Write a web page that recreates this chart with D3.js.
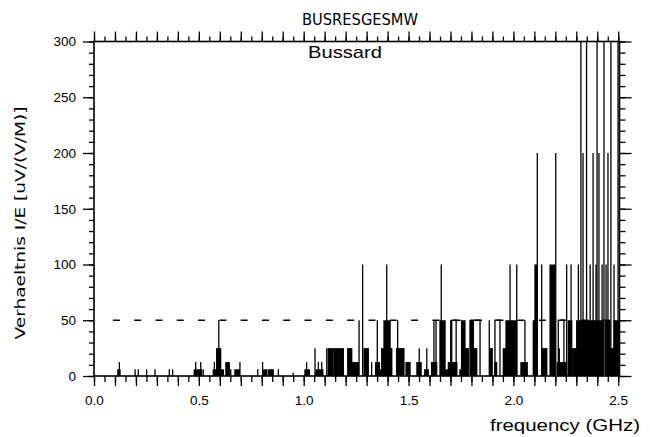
<!DOCTYPE html>
<html><head><meta charset="utf-8">
<script src="https://cdn.jsdelivr.net/npm/d3@7"></script>
<style>body{margin:0;background:#fff}svg{display:block}</style>
</head><body>
<svg id="c" width="650" height="437"></svg>
<script>
// ---- data ----
const titleText = "BUSRESGESMW";
const subtitleText = "Bussard";
const xLabel = "frequency (GHz)";
const yLabel = "Verhaeltnis I/E [uV/(V/M)]";
const xTickLabels = [0.0, 0.5, 1.0, 1.5, 2.0, 2.5];
const yTickLabels = [0, 50, 100, 150, 200, 250, 300];
const limitLevel = 50;      // dashed reference level
const limitStart = 0.09;    // GHz where the dashed line starts
// single spectral lines [GHz, value]
const spikes = [
  [0.121,12.5],[0.196,6],[0.211,6],[0.251,6],[0.291,6],[0.359,6],[0.375,6],
  [0.485,12.5],[0.509,12.5],[0.521,6],[0.574,12.5],[0.595,50],[0.652,6],[0.696,12.5],
  [0.781,6],[0.804,12.5],[0.847,6],[0.879,6],[0.950,3],[1.014,12.5],[1.054,25],
  [1.070,12.5],[1.086,12.5],[1.110,25],[1.264,50],[1.281,100],[1.324,12.5],[1.351,50],
  [1.396,100],[1.448,50],[1.551,25],[1.587,25],[1.621,50],[1.631,50],[1.656,100],
  [1.701,50],[1.885,50],[1.984,100],[2.016,100],[2.055,50],[2.114,200],[2.135,100],
  [2.202,200],[2.219,25],[2.254,100],[2.275,100],
  [2.322,300],[2.349,300],[2.399,300],[2.432,300],[2.465,300],[2.499,300],
  [2.332,200],[2.380,200],[2.408,200],[2.451,200],
  [2.310,100],[2.366,100],[2.394,100],[2.423,100],[2.442,100],[2.480,100]
];
// filled bands [GHz start, GHz end, value]
const filledBands = [
  [0.114,0.124,6],[0.478,0.513,6],[0.569,0.617,6],[0.585,0.604,25],[0.629,0.645,12.5],
  [0.672,0.693,6],[0.804,0.823,6],[0.831,0.855,6],[1.006,1.027,6],[1.059,1.091,6],
  [1.117,1.140,25],[1.145,1.165,25],[1.170,1.189,25],[1.210,1.229,25],[1.229,1.261,12.5],
  [1.288,1.308,25],[1.343,1.361,12.5],[1.364,1.380,6],[1.372,1.420,25],[1.383,1.412,50],
  [1.443,1.478,25],[1.488,1.507,12.5],[1.540,1.560,12.5],[1.577,1.594,6],[1.610,1.634,12.5],
  [1.650,1.674,50],[1.674,1.690,6],[1.690,1.730,12.5],[1.745,1.769,6],[1.753,1.769,50],
  [1.769,1.785,25],[1.793,1.809,50],[1.809,1.825,25],[1.888,1.899,25],[1.912,1.920,12.5],
  [1.952,1.968,25],[1.965,2.016,50],[2.036,2.066,12.5],[2.095,2.114,50],[2.103,2.114,100],
  [2.135,2.159,25],[2.175,2.198,100],[2.209,2.241,12.5],[2.241,2.254,12.5],[2.262,2.278,50],
  [2.283,2.302,25],[2.302,2.333,50],[2.333,2.395,50],[2.400,2.430,50],[2.440,2.460,50],
  [2.460,2.480,25],[2.480,2.500,50]
];
// outlined (open) bands [GHz start, GHz end, value]
const openBands = [
  [1.706,1.727,50],[1.796,1.841,50],[1.912,1.936,50],[2.214,2.241,50]
];

// ---- layout ----
const svg = d3.select("#c");
const x = d3.scaleLinear().domain([0, 2.506]).range([94, 619.5]);
const y = d3.scaleLinear().domain([0, 300]).range([376, 41.5]);
const [x0, x1] = x.range();
const [yb, yt] = y.range();

svg.append("rect").attr("width",650).attr("height",437).attr("fill","#fff");

svg.append("defs").append("clipPath").attr("id","clip")
  .append("rect").attr("x",x0).attr("y",yt).attr("width",x1-x0).attr("height",yb-yt);

const plot = svg.append("g").attr("clip-path","url(#clip)");

// dashed limit line
plot.append("line")
  .attr("x1", x(limitStart)).attr("x2", x(2.506))
  .attr("y1", y(limitLevel)).attr("y2", y(limitLevel))
  .attr("stroke","#000").attr("stroke-width",1.3).attr("stroke-dasharray","7,14.3");

const lw = 1.3;
plot.selectAll("rect.band").data(filledBands).join("rect")
  .attr("class","band")
  .attr("x", d => x(d[0]) - lw/2)
  .attr("width", d => Math.max(lw, x(d[1]) - x(d[0]) + lw))
  .attr("y", d => y(d[2]))
  .attr("height", d => y(0) - y(d[2]))
  .attr("fill","#000");

plot.selectAll("path.open").data(openBands).join("path")
  .attr("class","open")
  .attr("d", d => `M${x(d[0])},${y(0)}V${y(d[2])}H${x(d[1])}V${y(0)}`)
  .attr("fill","none").attr("stroke","#000").attr("stroke-width",lw);

plot.selectAll("line.spike").data(spikes).join("line")
  .attr("class","spike")
  .attr("x1", d => x(d[0])).attr("x2", d => x(d[0]))
  .attr("y1", y(0)).attr("y2", d => y(d[1]))
  .attr("stroke","#000").attr("stroke-width",lw);

// ---- axes ----
const minorX = d3.range(0, 51).map(i => i * 0.05);
const majorX = d3.range(0, 26).map(i => i * 0.1);
const minorY = d3.range(0, 31).map(i => i * 10);
const fmtX = v => (xTickLabels.some(t => Math.abs(t - v) < 1e-6) ? v.toFixed(1) : "");

function styleAxis(g){
  g.select(".domain").remove();
  g.selectAll("line").attr("stroke","#000").attr("stroke-width",1.3);
  g.selectAll("text").attr("font-family","'Liberation Sans', Arial, sans-serif")
    .attr("font-size",13.5).attr("fill","#000");
}

svg.append("g").attr("transform",`translate(0,${yb})`)
  .call(d3.axisBottom(x).tickValues(minorX).tickSize(6).tickFormat("")).call(styleAxis);
svg.append("g").attr("transform",`translate(0,${yb})`)
  .call(d3.axisBottom(x).tickValues(majorX).tickSize(10).tickPadding(9).tickFormat(fmtX)).call(styleAxis);
svg.append("g").attr("transform",`translate(0,${yt})`)
  .call(d3.axisTop(x).tickValues(minorX).tickSize(5).tickFormat("")).call(styleAxis);
svg.append("g").attr("transform",`translate(0,${yt})`)
  .call(d3.axisTop(x).tickValues(majorX).tickSize(10).tickFormat("")).call(styleAxis);

svg.append("g").attr("transform",`translate(${x0},0)`)
  .call(d3.axisLeft(y).tickValues(minorY).tickSize(5).tickFormat("")).call(styleAxis);
svg.append("g").attr("transform",`translate(${x0},0)`)
  .call(d3.axisLeft(y).tickValues(yTickLabels).tickSize(11).tickPadding(7).tickFormat(d3.format("d"))).call(styleAxis);
svg.append("g").attr("transform",`translate(${x1},0)`)
  .call(d3.axisRight(y).tickValues(minorY).tickSize(6).tickFormat("")).call(styleAxis);
svg.append("g").attr("transform",`translate(${x1},0)`)
  .call(d3.axisRight(y).tickValues(yTickLabels).tickSize(12).tickFormat("")).call(styleAxis);

// frame
svg.append("rect").attr("x",x0).attr("y",yt).attr("width",x1-x0).attr("height",yb-yt)
  .attr("fill","none").attr("stroke","#000").attr("stroke-width",1.6);

// ---- texts ----
svg.append("text").attr("x",360).attr("y",25).attr("text-anchor","middle")
  .attr("font-family","'DejaVu Sans', sans-serif").attr("font-size",15)
  .attr("textLength",116).attr("lengthAdjust","spacingAndGlyphs").text(titleText);
svg.append("text").attr("x",345).attr("y",58).attr("text-anchor","middle")
  .attr("font-family","'Liberation Sans', Arial, sans-serif").attr("font-size",17)
  .attr("textLength",74).attr("lengthAdjust","spacingAndGlyphs").text(subtitleText);
svg.append("text").attr("x",640).attr("y",431).attr("text-anchor","end")
  .attr("font-family","'Liberation Sans', Arial, sans-serif").attr("font-size",16)
  .attr("textLength",150).attr("lengthAdjust","spacingAndGlyphs").text(xLabel);
svg.append("text").attr("transform","translate(25,223) rotate(-90)").attr("text-anchor","middle")
  .attr("font-family","'DejaVu Sans', sans-serif").attr("font-size",14)
  .attr("textLength",233).attr("lengthAdjust","spacingAndGlyphs").text(yLabel);
</script>
</body></html>
